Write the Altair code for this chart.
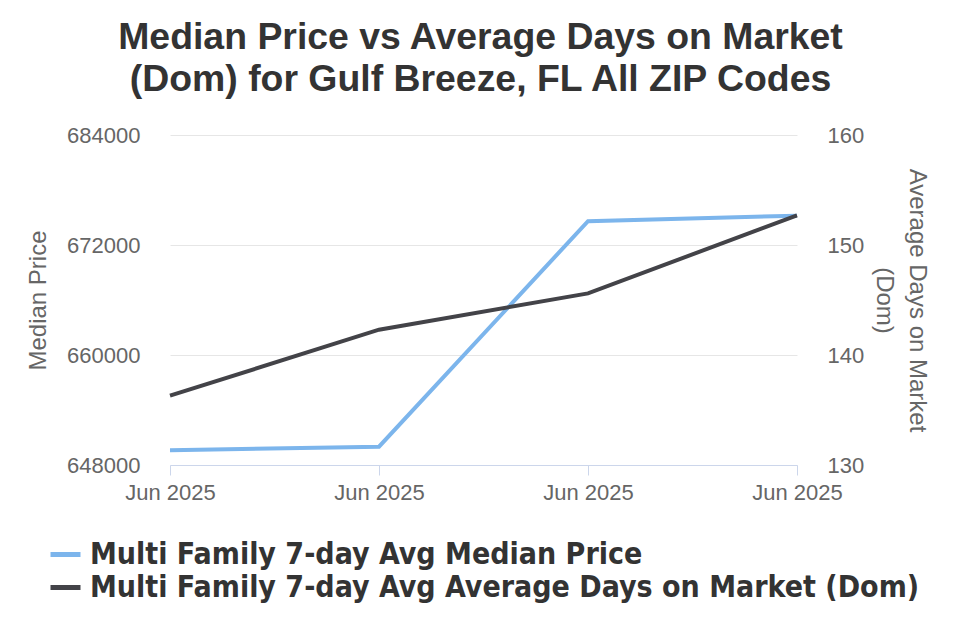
import altair as alt
import pandas as pd

x_labels = ["Jun 2025", "Jun 2025", "Jun 2025", "Jun 2025"]
x_index = [0, 1, 2, 3]
median_price = [649600, 650000, 674600, 675200]
days_on_market = [136.3, 142.3, 145.6, 152.7]
series_names = ["Multi Family 7-day Avg Median Price",
                "Multi Family 7-day Avg Average Days on Market (Dom)"]
series_colors = ["#7cb5ec", "#434348"]
price_ticks = [648000, 660000, 672000, 684000]
dom_ticks = [130, 140, 150, 160]

df_price = pd.DataFrame({"idx": x_index, "value": median_price, "series": series_names[0]})
df_dom = pd.DataFrame({"idx": x_index, "value": days_on_market, "series": series_names[1]})

label_expr = "[" + ",".join("'" + s + "'" for s in x_labels) + "][datum.value]"

FONT = "Liberation Sans"
NARROW = "Liberation Sans Narrow, DejaVu Sans Condensed, Liberation Sans"

x_enc = alt.X(
    "idx:Q",
    scale=alt.Scale(domain=[0, 3], nice=False, zero=False),
    axis=alt.Axis(
        title=None, values=x_index, labelExpr=label_expr, grid=False,
        domainColor="#ccd6eb", tickColor="#ccd6eb", tickSize=10, tickWidth=1,
        labelFontSize=22, labelColor="#666666", labelFont=FONT, labelPadding=7,
        labelOverlap=False, labelFlush=False,
    ),
)

color_enc = alt.Color(
    "series:N",
    scale=alt.Scale(domain=series_names, range=series_colors),
    legend=alt.Legend(
        title=None, orient="none", legendX=-122, legendY=402, direction="vertical",
        symbolType="stroke", symbolStrokeWidth=5, symbolSize=900,
        labelFont=NARROW, labelFontSize=30, labelFontWeight="bold",
        labelColor="#333333", labelLimit=900, labelOffset=7, rowPadding=-2,
    ),
)

price_line = alt.Chart(df_price).mark_line(strokeWidth=4).encode(
    x=x_enc,
    y=alt.Y(
        "value:Q",
        scale=alt.Scale(domain=[648000, 684000], nice=False, zero=False),
        axis=alt.Axis(
            orient="left", title="Median Price", values=price_ticks, format="d",
            grid=True, gridColor="#e6e6e6", domain=False, ticks=False,
            labelFontSize=22, labelColor="#666666", labelFont=FONT, labelPadding=30,
            titleFontSize=24, titleColor="#666666", titleFont=FONT, titleFontWeight="normal",
            titlePadding=16,
        ),
    ),
    color=color_enc,
)

dom_line = alt.Chart(df_dom).mark_line(strokeWidth=4).encode(
    x=x_enc,
    y=alt.Y(
        "value:Q",
        scale=alt.Scale(domain=[130, 160], nice=False, zero=False),
        axis=alt.Axis(
            orient="right", title=["Average Days on Market", "(Dom)"], values=dom_ticks,
            grid=False, domain=False, ticks=False,
            labelFontSize=22, labelColor="#666666", labelFont=FONT, labelPadding=30,
            titleFontSize=24, titleColor="#666666", titleFont=FONT, titleFontWeight="normal",
            titlePadding=8, titleLineHeight=33,
        ),
    ),
    color=color_enc,
)

chart = alt.layer(price_line, dom_line).resolve_scale(y="independent").properties(
    width=627,
    height=330,
    autosize=alt.AutoSizeParams(type="none"),
    padding={"left": 170, "top": 135, "right": 163, "bottom": 175},
    title=alt.TitleParams(
        text=["Median Price vs Average Days on Market", "(Dom) for Gulf Breeze, FL All ZIP Codes"],
        fontSize=37.4, fontWeight="bold", color="#333333", font=FONT,
        anchor="middle", lineHeight=42, offset=26, dx=-3,
    ),
).configure(background="white").configure_view(stroke=None, strokeWidth=0)

chart.save("out.html", embed_options={"renderer": "svg", "actions": False})
